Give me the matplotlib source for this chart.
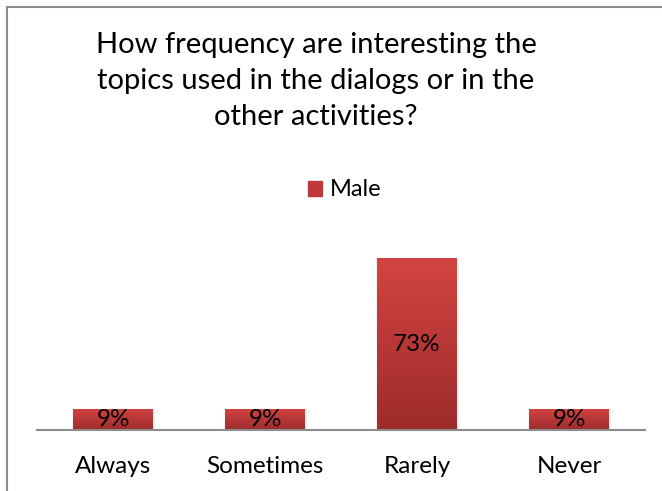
import numpy as np
import matplotlib.pyplot as plt
import matplotlib.patches as mpatches
from matplotlib.colors import LinearSegmentedColormap
from matplotlib.lines import Line2D

categories = ["Always", "Sometimes", "Rarely", "Never"]
male = [0.09, 0.09, 0.73, 0.09]
labels = ["9%", "9%", "73%", "9%"]
title = ("How frequency are interesting the\n"
         "topics used in the dialogs or in the\n"
         "other activities?")

plt.rcParams['font.family'] = ['Lato', 'DejaVu Sans']

fig = plt.figure(figsize=(6.62, 4.91), dpi=100)
W, H = 662, 491
ax = fig.add_axes([37 / W, (H - 430) / H, 608 / W, 188 / H])

x = np.arange(len(categories))
width = 0.52
bars = ax.bar(x, male, width, color='#c0393a', zorder=2)

# vertical gradient fill for each bar
grad = LinearSegmentedColormap.from_list('red', ['#9e2b2b', '#d24442'])
g = np.linspace(0, 1, 100).reshape(-1, 1)
for b in bars:
    x0, y0 = b.get_x(), b.get_y()
    w, h = b.get_width(), b.get_height()
    im = ax.imshow(g, cmap=grad, origin='lower', aspect='auto',
                   extent=[x0, x0 + w, y0, y0 + h], zorder=3)
    im.set_clip_path(b)
    # soft shadow
    ax.add_patch(mpatches.Rectangle((x0 + 0.015, y0), w, h, color='#000000',
                                    alpha=0.08, zorder=1, lw=0))

for xi, v, lab in zip(x, male, labels):
    ax.text(xi, v / 2, lab, ha='center', va='center', fontsize=17.5, zorder=4)

ax.set_xlim(-0.5, len(categories) - 0.5)
ax.set_ylim(0, 0.8)
ax.set_xticks(x)
ax.set_xticklabels(categories, fontsize=17.5)
ax.tick_params(axis='x', length=0, pad=19)
ax.set_yticks([])
for s in ['top', 'right', 'left']:
    ax.spines[s].set_visible(False)
ax.spines['bottom'].set_color('#8c8c8c')
ax.spines['bottom'].set_linewidth(1.5)
ax.spines['bottom'].set_zorder(5)

fig.text(316 / W, 1 - 81 / H, title, ha='center', va='center',
         fontsize=21, linespacing=1.47)

# legend
fig.patches.append(mpatches.Rectangle((308 / W, 1 - 196 / H), 14 / W, 15 / H,
                                      transform=fig.transFigure,
                                      color='#c0393a', figure=fig))
fig.text(330 / W, 1 - 189 / H, "Male", ha='left', va='center', fontsize=17)

# chart border (cropped on the right and bottom)
fig.add_artist(Line2D([7 / W, 7 / W], [0, 1 - 7 / H], transform=fig.transFigure,
                      color='#8c8c8c', lw=1.5))
fig.add_artist(Line2D([7 / W, 1], [1 - 7 / H, 1 - 7 / H], transform=fig.transFigure,
                      color='#8c8c8c', lw=1.5))

fig.savefig("out.png", dpi=100)
